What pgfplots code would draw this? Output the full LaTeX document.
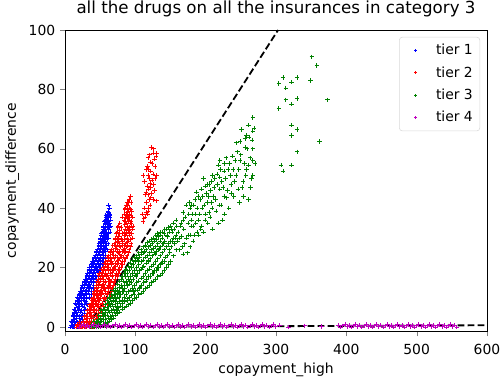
\documentclass[border=0pt]{standalone}
\usepackage{pgfplots}
\pgfplotsset{compat=1.18}
\usepackage{fontspec}
\setmainfont{DejaVu Sans}
\definecolor{tb}{rgb}{0,0,1}
\definecolor{tr}{rgb}{1,0,0}
\definecolor{tg}{rgb}{0,0.5,0}
\definecolor{tm}{rgb}{0.75,0,0.75}
\begin{document}
\begin{tikzpicture}[x=1pt,y=1pt]
\useasboundingbox (0,0) rectangle (360.72,272.88);
\begin{axis}[
 at={(46.8pt,34.2pt)}, anchor=south west,
 scale only axis, width=303.84pt, height=217.08pt,
 xmin=0, xmax=600, ymin=-1.5, ymax=100,
 xtick={0,100,...,600}, ytick={0,20,...,100},
 tick align=outside, major tick length=3.5pt,
 xtick pos=bottom, ytick pos=left,
 /pgf/number format/assume math mode=true,
 ticklabel style={font=\fontsize{10}{12}\selectfont},
 xticklabel style={yshift=-2pt},
 title={all the drugs on all the insurances in category 3},
 title style={font=\fontsize{12}{14}\selectfont, at={(0.5,1)}, anchor=base, yshift=6pt},
 xlabel={copayment\_high}, ylabel={copayment\_difference},
 label style={font=\fontsize{10}{12}\selectfont},
 xlabel style={yshift=1pt},
 axis line style={line width=0.6pt},
 legend style={at={(1,1)}, xshift=-5pt, yshift=-5pt, anchor=north east, draw=black!15, rounded corners=2pt, font=\fontsize{10}{12}\selectfont, row sep=3pt, inner sep=3pt},
 legend cell align=left,
 legend image code/.code={\path[draw=none] (0,0) (0.75cm,0); \draw[#1, mark size=1pt] plot[only marks] coordinates {(0.3cm,0cm)};},
 every axis plot/.append style={only marks, mark=+, mark size=1.6pt, line width=0.55pt},
]
\addplot[tb] coordinates {
(8,0) (10,0) (12,0) (14,0) (16,0) (18,0) (20,0) (22,0) (24,0) (11,1) (15,1) (19,1) (23,1)
(9,2) (12,2.5) (16,2) (20,3) (25,2.5) (14,3) (22,2)
(11,4) (14,4.5) (18,4) (22,5) (27,4.5) (16,5) (25,4)
(13,6) (17,6.5) (21,6) (25,7) (29,6) (19,7) (27,6.5)
(15,8) (19,8.5) (23,8) (27,9) (31,8) (21,9) (29,8.5) (17,9)
(18,10) (22,10.5) (26,10) (30,11) (34,10) (24,11) (28,10.5) (20,11)
(22,12) (26,12.5) (29,12) (33,13) (37,12) (24,13) (31,12.5) (35,13)
(25,14) (29,14.5) (33,14) (37,15) (41,14) (27,15) (35,14.5) (31,15)
(29,16) (33,16.5) (37,16) (41,17) (45,16) (31,17) (39,16.5) (43,17) (35,17)
(32,18) (36,18.5) (40,18) (44,19) (48,18) (34,19) (42,18.5) (38,19) (46,19)
(35,20) (39,20.5) (43,20) (47,21) (51,20) (37,21) (45,20.5) (41,21) (53,21) (49,20)
(39,22) (43,22.5) (47,22) (51,23) (55,22) (41,23) (49,22.5) (45,23) (53,23)
(43,24) (47,24.5) (51,24) (55,25) (58,24) (45,25) (53,24.5) (49,25)
(46,26) (50,26.5) (54,26) (57,27) (60,26) (48,27) (52,27) (56,26.5)
(48,28) (52,28.5) (55,28) (58,29) (61,28) (50,29) (54,29) (57,28.5)
(50,30) (54,30.5) (57,30) (60,31) (62,30) (52,31) (56,31) (59,30.5)
(53,32) (56,32.5) (59,32) (62,33) (64,32) (55,33) (58,33)
(55,34) (58,34.5) (61,34) (63,35) (65,34) (57,35) (60,35)
(57,36) (60,36.5) (62,36) (64,37) (59,37) (65,36)
(60,38) (62,38.5) (64,38) (61,39) (63,40) (62,41)
(9,0.5) (13,0.5) (17,0.5) (21,0.5) (10,1.5) (14,1.5) (18,1.5) (22,1.5) (26,1.5)
(12,3.5) (16,3.5) (20,3.5) (24,3.5) (28,3.5)
(15,5.5) (19,5.5) (23,5.5) (27,5.5) (13,5)
(16,7.5) (20,7.5) (24,7.5) (28,7.5) (32,7.5)
(19,9.5) (23,9.5) (27,9.5) (31,9.5)
(21,11.5) (25,11.5) (29,11.5) (33,11.5) (37,11)
(24,13.5) (28,13.5) (32,13.5) (36,13.5) (40,13)
(28,15.5) (32,15.5) (36,15.5) (40,15.5) (44,15)
(31,17.5) (35,17.5) (39,17.5) (43,17.5) (47,17)
(34,19.5) (38,19.5) (42,19.5) (46,19.5) (50,19)
(38,21.5) (42,21.5) (46,21.5) (50,21.5) (54,21)
(42,23.5) (46,23.5) (50,23.5) (54,23.5) (57,23)
(45,25.5) (49,25.5) (53,25.5) (57,25.5)
(48,27.5) (51,27.5) (55,27.5) (59,27.5)
(50,29.5) (53,29.5) (56,29.5) (60,29.5)
(52,31.5) (55,31.5) (58,31.5) (61,31.5)
(54,33.5) (57,33.5) (60,33.5) (63,33.5)
(56,35.5) (59,35.5) (62,35.5)
(58,37.5) (61,37.5) (63,37.5)
};
\addlegendentry{tier 1}
\addplot[tr] coordinates {
(16,0) (19,0) (22,0) (25,0) (28,0) (31,0) (34,0) (37,0) (40,0) (44,0) (48,0) (18,1) (24,1) (30,1) (36,1) (42,1) (46,1) (21,0.5) (27,0.5) (33,0.5)
(26,2) (30,2.5) (34,2) (38,3) (42,2) (46,3) (50,2.5) (32,3) (44,2.5)
(30,4) (34,4.5) (38,4) (42,5) (46,4) (50,5) (36,5) (48,4.5) (53,4)
(34,6) (38,6.5) (42,6) (46,7) (50,6) (54,7) (40,7) (48,6.5) (36,7)
(37,8) (41,8.5) (45,8) (49,9) (53,8) (57,9) (39,9) (47,8.5) (60,8) (43,9)
(40,10) (44,10.5) (48,10) (52,11) (56,10) (60,11) (42,11) (50,10.5) (63,10) (46,11)
(42,12) (46,12.5) (50,12) (54,13) (58,12) (62,13) (66,12) (44,13) (52,12.5) (56,13)
(45,14) (49,14.5) (53,14) (57,15) (61,14) (65,15) (69,14) (47,15) (55,14.5) (63,14)
(47,16) (51,16.5) (55,16) (59,17) (63,16) (67,17) (71,16) (53,17) (61,16.5) (74,17)
(49,18) (53,18.5) (57,18) (61,19) (65,18) (69,19) (73,18) (77,19) (55,19) (67,18.5)
(54,20) (58,20.5) (62,20) (66,21) (70,20) (74,21) (78,20) (82,21) (60,21) (72,20.5)
(58,22) (62,22.5) (66,22) (70,23) (74,22) (78,23) (82,22) (86,23) (64,23) (76,22.5)
(62,24) (67,24.5) (72,24) (76,25) (80,24) (84,25) (88,24) (65,25) (78,24.5)
(66,26) (71,26.5) (75,26) (79,27) (83,26) (87,27) (91,26) (73,27) (85,26.5)
(70,28) (74,28.5) (78,28) (82,29) (86,28) (90,29) (94,28) (76,29) (88,28.5)
(72,30) (76,30.5) (80,30) (84,31) (88,30) (92,31) (96,30) (86,31)
(74,32) (78,32.5) (84,32) (88,33) (92,32) (96,33) (90,32.5) (86,33)
(76,34) (85,34.5) (89,34) (93,35) (97,34) (87,35)
(84,36) (88,36.5) (92,36) (96,37) (90,37) (86,37)
(84,38) (88,38.5) (92,38) (95,39) (90,39)
(86,40) (89,41) (92,40) (94,42) (88,42) (91,43) (93,44)
(17,0.5) (20,1.5) (23,0.2) (26,1.5) (29,0.3) (32,1.5) (35,0.5) (38,1.5) (41,0.5) (45,1.5) (47,0.5)
(28,3.5) (32,3.5) (36,3.5) (40,3.5) (44,3.5) (48,3.5)
(32,5.5) (36,5.5) (40,5.5) (44,5.5) (48,5.5) (52,5.5)
(35,7.5) (39,7.5) (43,7.5) (47,7.5) (51,7.5) (55,7.5)
(38,9.5) (42,9.5) (46,9.5) (50,9.5) (54,9.5) (58,9.5)
(41,11.5) (45,11.5) (49,11.5) (53,11.5) (57,11.5) (61,11.5) (64,11)
(44,13.5) (48,13.5) (52,13.5) (56,13.5) (60,13.5) (64,13.5) (68,13)
(46,15.5) (50,15.5) (54,15.5) (58,15.5) (62,15.5) (66,15.5) (70,15)
(48,17.5) (52,17.5) (56,17.5) (60,17.5) (64,17.5) (68,17.5) (72,17.5) (76,18)
(52,19.5) (56,19.5) (60,19.5) (64,19.5) (68,19.5) (72,19.5) (76,19.5) (80,20)
(56,21.5) (60,21.5) (64,21.5) (68,21.5) (72,21.5) (76,21.5) (80,21.5) (84,22)
(60,23.5) (64,23.5) (69,23.5) (74,23.5) (79,23.5) (83,23.5) (87,23.5)
(64,25.5) (69,25.5) (74,25.5) (78,25.5) (82,25.5) (86,25.5) (90,25)
(68,27.5) (72,27.5) (77,27.5) (81,27.5) (85,27.5) (89,27.5) (93,27)
(71,29.5) (75,29.5) (80,29.5) (84,29.5) (89,29.5) (93,29.5)
(73,31.5) (77,31.5) (82,31.5) (87,31.5) (91,31.5) (95,31.5)
(75,33.5) (80,33.5) (88,33.5) (92,33.5) (95,34)
(78,35) (86,35.5) (90,35.5) (94,35.5)
(82,37) (87,37.5) (91,37.5) (94,37.5)
(85,39.5) (89,39.5) (93,39.5) (87,41) (90,42)
(111,35.5) (114,37) (118,39) (121,41) (115,45.5) (121,48.5) (118,51) (122,52.5) (130,51) (111,51)
(116,53) (117,54) (121,55.5) (118,57) (123,60.5) (126,60) (130,58.5) (129.6,57.5) (130,42.5) (125,43)
(114,44.6) (119,46.5) (124,49.5) (127,46) (113,40) (123,45) (128,54) (120,43) (116,42) (110,38)
(112,36.5) (117,38) (119,40) (122,43.5) (118,44.5) (117,47.5) (122,47) (126,48) (120,50) (125,51.5)
(119,53) (124,55) (127,56.5) (120,58) (125,58.5) (128,50) (113,49) (115,38.5)
};
\addlegendentry{tier 2}
\addplot[tg] coordinates {
(36,0) (39,0) (42,0) (45,0) (38,1) (43,1) (41,2) (45,2)
(48,0) (48,2.5) (48,4) (51,0.5) (51,3) (51,5.5) (54,1) (54,3.5) (54,6)
(57,0.5) (57,2.5) (57,5) (57,7.5) (60,1.5) (60,4) (60,6.5) (60,9)
(63,2) (63,5) (63,8) (63,10) (66,2.5) (66,5.5) (66,8.5) (66,11)
(69,3) (69,6) (69,9) (69,12.5) (72,4) (72,7) (72,10) (72,13)
(75,4.5) (75,8) (75,11) (75,14.5) (78,5) (78,8.5) (78,12) (78,15.5)
(81,6) (81,9) (81,13) (81,17) (84,6.5) (84,10) (84,14) (84,18)
(87,7) (87,11) (87,15) (87,19.5) (90,7.5) (90,12) (90,16) (90,20.5)
(93,8) (93,12.5) (93,17) (93,21.5) (96,9) (96,13) (96,18) (96,22.5)
(99,9.5) (99,14) (99,19) (99,23.5) (102,10) (102,15) (102,20) (102,24)
(105,11) (105,15.5) (105,21) (105,25) (108,11.5) (108,16.5) (108,22) (108,26)
(111,12) (111,17) (111,22.5) (111,27) (114,13) (114,18) (114,23.5) (114,27.5)
(117,13.5) (117,19) (117,24) (117,28.5) (120,14) (120,19.5) (120,25) (120,29)
(123,15) (123,20.5) (123,26) (123,29.5) (126,15.5) (126,21) (126,26.5) (126,30)
(129,16) (129,22) (129,27) (129,31) (132,17) (132,23) (132,28) (132,31.5)
(135,17.5) (135,24) (135,29) (135,32) (138,18) (138,25) (138,30)
(141,19) (141,26) (141,31.5) (144,20) (144,27) (144,33) (147,21) (147,28) (147,33.5)
(150,22) (150,29) (150,34) (154,24) (154,30) (154,35) (158,26) (158,31) (158,36)
(50,1.5) (56,4) (62,3) (65,7) (70,11) (74,6) (77,10) (80,14) (83,12) (86,17) (89,9)
(92,14.5) (95,20) (98,11) (101,17) (104,22.5) (107,13.5) (110,20) (113,25.5) (116,16)
(119,22) (122,27.5) (125,18) (128,24.5) (131,20) (134,26.5) (137,21.5) (140,28) (143,23.5)
(146,30.5) (149,25) (152,32) (156,28)
(37,0.5) (40,1) (44,0.5) (46,1.5) (49,1) (52,2) (53,4.5) (55,2.5) (56,6) (58,4) (59,1) (61,5.5) (62,8)
(64,3.5) (64,7) (65,9.5) (67,4) (68,7.5) (68,10.5) (70,5) (71,8.5) (71,12) (73,5.5) (73,9.5) (74,12.5)
(76,6.5) (76,11.5) (77,13.5) (79,7) (79,11) (80,16) (82,8) (82,12) (83,15.5) (85,8.5) (85,13) (86,19)
(88,9.5) (88,14) (88,18) (91,10) (91,15.5) (91,19) (94,10.5) (94,15) (94,20) (97,12) (97,16) (97,21)
(100,12.5) (100,17.5) (100,22) (103,12.5) (103,18) (103,23) (106,13) (106,19) (106,23.5)
(109,14) (109,19.5) (109,24.5) (112,15) (112,20.5) (112,25) (115,15.5) (115,21.5) (115,26)
(118,17) (118,22.5) (118,27) (121,17) (121,23) (121,27.5) (124,18) (124,24) (124,28)
(127,19) (127,25) (127,29) (130,19) (130,25.5) (130,29.5) (133,20) (133,26) (133,30.5)
(136,21) (136,27) (136,31) (139,22) (139,28) (139,32) (142,22) (142,29) (142,33)
(145,24) (145,31) (148,26) (148,32) (151,27) (151,33) (153,29) (155,33) (157,30) (159,34) (160,29)
(161,32) (163,26) (164,34) (166,30.5) (168,24.5) (168,36) (168,38.5) (170,28) (172,41) (174,25)
(175,35) (175,31) (178,40) (178,31) (178,27) (180,41) (180,36) (182,34) (182,29) (185,43)
(185,38) (187,45.5) (188,32) (190,31) (190,36) (192,43) (194,46.5) (194,34) (195,40) (197,50)
(197,32) (200,47.5) (200,38) (201,45) (203,35) (205,48) (205,38.5) (206,37) (208,49) (208,42)
(210,33) (211,44) (213,50) (215,39) (216,51.5) (218,54.5) (218,35) (220,56) (220,50.5) (220,46.5)
(222,41) (224,36) (226,52.5) (226,44) (227,55) (227,38) (230,43.5) (232,53) (233,40)
(236,48) (238,57.5) (240,44) (243,51) (245,59) (246,46.5) (248,42) (249,62.5) (249,56) (251,66.5)
(253,49) (254,44) (256,63.5) (256,60.5) (258,64.5) (258,53) (261,68) (261,54.5) (261,43) (264,47)
(267,70.5) (267,66) (267,56) (267,51) (267,60)
(163,30) (165,35) (167,27) (169,33) (171,37) (173,30) (176,38) (177,42) (179,34) (181,38)
(183,41) (184,31) (186,35) (188,40) (189,44) (191,38) (193,33) (196,44) (198,41) (199,36)
(202,42) (203,48) (204,44) (207,46) (209,40) (210,51) (212,47) (214,43) (217,48) (219,41)
(221,53) (223,49) (225,47) (228,50) (229,57) (231,46) (234,55) (235,51) (237,45) (239,53)
(241,49) (242,56) (244,62) (247,53) (250,58) (252,47) (255,55) (257,51) (259,60) (262,64)
(263,57) (265,50) (266,63) (269,67) (270,55)
(351,91) (358,88) (310,84) (304,82) (314,80.5) (322,82.5) (330,84) (349,83) (314,76.5) (330,77)
(322,75) (304,73.5) (373,76.5) (322,68) (330,66.5) (322,64.5) (362,62.5) (330,59) (307,54.5) (322,54.5)
(310,52.5)
};
\addlegendentry{tier 3}
\addplot[tm] coordinates {
(20,0) (23,0.4) (26,0.8) (29,0.2) (32,0.6) (35,0) (38,0.4) (41,0.8) (44,0.2) (47,0.6) (50,0) (53,0.4)
(56,0.8) (59,0.2) (62,0.6) (65,0) (68,0.4) (71,0.8) (74,0.2) (77,0.6) (80,0) (83,0.4) (86,0.8) (89,0.2)
(92,0.6) (95,0) (98,0.4) (101,0.8) (104,0.2) (107,0.6) (110,0) (113,0.4) (116,0.8) (119,0.2) (122,0.6)
(125,0) (128,0.4) (131,0.8) (134,0.2) (137,0.6) (140,0) (143,0.4) (146,0.8) (149,0.2) (152,0.6) (155,0)
(158,0.4) (161,0.8) (164,0.2) (167,0.6) (170,0) (173,0.4) (176,0.8) (179,0.2) (182,0.6) (185,0) (188,0.4)
(191,0.8) (194,0.2) (197,0.6) (200,0) (203,0.4) (206,0.8) (209,0.2) (212,0.6) (215,0) (218,0.4) (221,0.8)
(224,0.2) (227,0.6) (230,0) (233,0.4) (236,0.8) (239,0.2) (242,0.6) (245,0) (248,0.4) (251,0.8) (254,0.2)
(257,0.6) (260,0) (263,0.4) (266,0.8) (269,0.2) (272,0.6) (275,0) (278,0.4) (281,0.8) (284,0.2) (287,0.6)
(290,0) (293,0.4) (296,0.8) (299,0.2)
(305,0.6) (318,0) (341,0.4) (365,0.2) (388,0.6)
(392,0) (395,0.4) (398,0.8) (401,0.2) (404,0.6) (407,0) (410,0.4) (413,0.8) (416,0.2) (419,0.6) (422,0)
(425,0.4) (428,0.8) (431,0.2) (434,0.6) (437,0) (440,0.4) (443,0.8) (446,0.2) (449,0.6) (452,0) (455,0.4)
(458,0.8) (461,0.2) (464,0.6) (467,0) (470,0.4) (473,0.8) (476,0.2) (479,0.6) (482,0) (485,0.4) (488,0.8)
(491,0.2) (494,0.6) (497,0) (500,0.4) (503,0.8) (506,0.2) (509,0.6) (512,0) (515,0.4) (518,0.8) (521,0.2)
(524,0.6) (527,0) (530,0.4) (533,0.8) (536,0.2) (539,0.6) (542,0) (545,0.4) (548,0.8) (551,0.2) (554,0.6) (557,0)
};
\addlegendentry{tier 4}
\addplot[black, no marks, sharp plot, line width=1.3pt, dash pattern=on 5pt off 2.2pt, forget plot] coordinates {(32,0) (303,100)};
\addplot[black, no marks, sharp plot, line width=1.3pt, dash pattern=on 5pt off 2.2pt, forget plot] coordinates {(32,0) (600,0.6)};
\end{axis}
\end{tikzpicture}
\end{document}
